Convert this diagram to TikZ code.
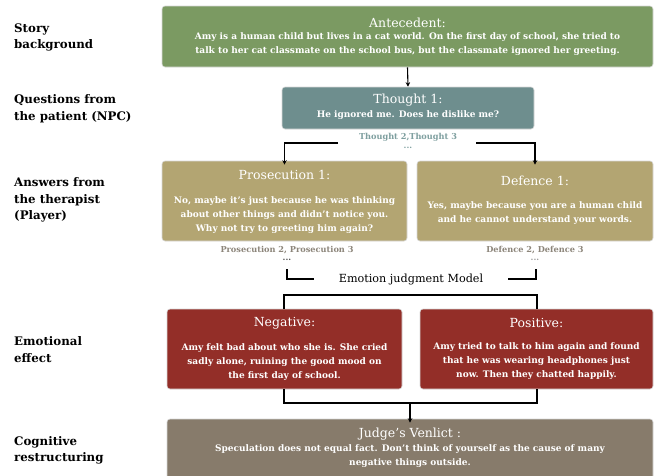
\documentclass[tikz,border=0pt]{standalone}
\usepackage{fontspec}
\setmainfont{DejaVu Serif}
\usetikzlibrary{arrows.meta}
\definecolor{cgreen}{HTML}{7B9A62}
\definecolor{cteal}{HTML}{6E8E8E}
\definecolor{ckhaki}{HTML}{B3A572}
\definecolor{cred}{HTML}{932E28}
\definecolor{cjudge}{HTML}{877B6B}
\definecolor{ctealtxt}{HTML}{7E9F9F}
\definecolor{cgraytxt}{HTML}{8C857A}
\tikzset{
  box/.style={draw=white!85!black, line width=0.6pt, rounded corners=3pt, inner sep=0pt},
  ttl/.style={text=white, font=\fontsize{12.5}{14}\selectfont, inner sep=0pt},
  body/.style={text=white, font=\bfseries\fontsize{9}{14}\selectfont, align=center, inner sep=0pt},
  side/.style={anchor=west, align=left, font=\bfseries\fontsize{11.8}{16.5}\selectfont, inner sep=0pt},
  sub/.style={font=\bfseries\fontsize{8.2}{9}\selectfont, inner sep=0pt},
  ln/.style={line width=1.1pt, black},
  arr/.style={ln, -{Stealth[length=4.5pt,width=4.5pt]}},
}
\begin{document}
\begin{tikzpicture}[x=1pt,y=-1pt]
\clip (0,0) rectangle (655,475);
\fill[white] (0,0) rectangle (655,475);
% side labels
\node[side] (l1) at (14,37.5) {Story\\background};
\node[side] (l2) at (14,108.5) {Questions from\\the patient (NPC)};
\node[side] (l3) at (14,200) {Answers from\\the therapist\\(Player)};
\node[side] (l4) at (14,349.5) {Emotional\\effect};
\node[side] (l5) at (14,450.5) {Cognitive\\restructuring};
% boxes
\node[box, fill=cgreen, minimum width=491, minimum height=61] (ante) at (407.5,36.5) {};
\node[box, fill=cteal, minimum width=252, minimum height=42] (thought) at (408,108) {};
\node[box, fill=ckhaki, minimum width=245, minimum height=80] (pro) at (284.5,201) {};
\node[box, fill=ckhaki, minimum width=236, minimum height=80] (def) at (535,201) {};
\node[box, fill=cred, minimum width=235, minimum height=80] (neg) at (284.5,349) {};
\node[box, fill=cred, minimum width=233, minimum height=80] (pos) at (536.5,349) {};
\node[box, fill=cjudge, minimum width=486, minimum height=80] (judge) at (410,459) {};
% texts
\node[ttl] (anteT) at (407.5,23) {Antecedent:};
\node[body] (anteB) at (407.5,44) {Amy is a human child but lives in a cat world. On the first day of school, she tried to\\talk to her cat classmate on the school bus, but the classmate ignored her greeting.};
\node[ttl] (thT) at (408,100) {Thought 1:};
\node[body] (thB) at (408,115) {He ignored me. Does he dislike me?};
\node[ttl] (proT) at (284.5,175) {Prosecution 1:};
\node[body] (proB) at (284.5,215) {No, maybe it's just because he was thinking\\about other things and didn't notice you.\\Why not try to greeting him again?};
\node[ttl] (defT) at (535,181) {Defence 1:};
\node[body] (defB) at (535,213) {Yes, maybe because you are a human child\\and he cannot understand your words.};
\node[ttl] (negT) at (284.5,323) {Negative:};
\node[body] (negB) at (284.5,362) {Amy felt bad about who she is. She cried\\sadly alone, ruining the good mood on\\the first day of school.};
\node[ttl] (posT) at (536.5,323) {Positive:};
\node[body] (posB) at (536.5,361) {Amy tried to talk to him again and found\\that he was wearing headphones just\\now. Then they chatted happily.};
\node[ttl] (juT) at (410,434) {Judge's Venlict :};
\node[body] (juB) at (410,456) {Speculation does not equal fact. Don't think of yourself as the cause of many\\negative things outside.};
% sub labels
\node[sub, text=ctealtxt] (t2) at (408,137) {Thought 2,Thought 3};
\node[sub, text=ctealtxt] (t2d) at (408,148) {...};
\node[sub, text=cgraytxt] (p2) at (287,250) {Prosecution 2, Prosecution 3};
\node[sub, text=black!70] (p2d) at (287,260) {...};
\node[sub, text=cgraytxt] (d2) at (535,250) {Defence 2, Defence 3};
\node[sub, text=black!40] (d2d) at (535,260) {...};
\node[font=\fontsize{11.2}{13}\selectfont, inner sep=0pt] (ejm) at (411,279) {Emotion judgment Model};
% connectors
\draw[arr] (ante.south) -- (thought.north);
\coordinate (tl) at (338,143);
\coordinate (tr) at (476,143);
\draw[arr] (tl) -| ([yshift=-4pt]pro.north);
\draw[arr] (tr) -| ([xshift=0pt,yshift=-4pt]def.north);
\coordinate (el1) at (287,269);
\coordinate (el2) at (314,279);
\coordinate (er1) at (536,269);
\coordinate (er2) at (508,279);
\draw[ln] (el1) |- (el2);
\draw[ln] (er1) |- (er2);
\coordinate (bl) at (284,295);
\coordinate (br) at (537,295);
\draw[ln] (bl |- neg.north) -- (bl) -- (br) -- (br |- pos.north);
\coordinate (bbl) at (284,403);
\coordinate (bbr) at (537,403);
\draw[ln] (bbl |- neg.south) -- (bbl) -- (bbr) -- (bbr |- pos.south);
\coordinate (bm) at (410,403);
\draw[arr] (bm) -- ([yshift=-4pt]judge.north);
\end{tikzpicture}
\end{document}
